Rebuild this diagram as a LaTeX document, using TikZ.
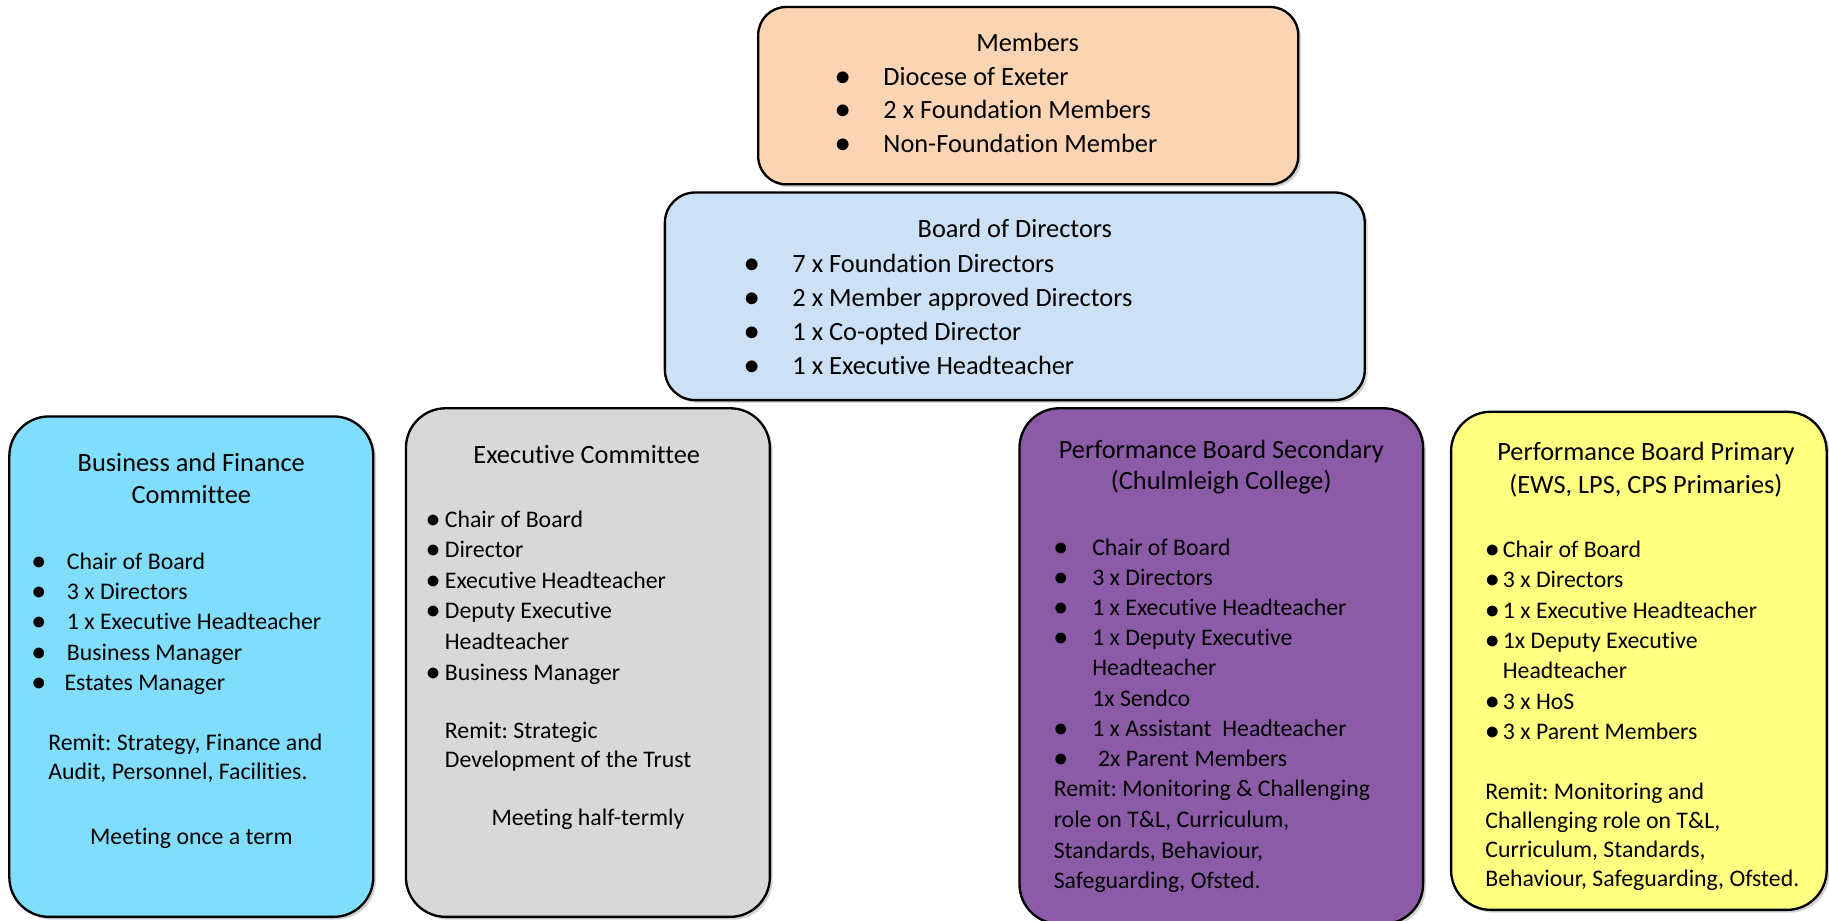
\documentclass[tikz,border=0pt]{standalone}
\usepackage{fontspec}
\setmainfont{Carlito}[Ligatures=NoCommon]
\frenchspacing
\usetikzlibrary{positioning}
\usetikzlibrary{matrix}
\usetikzlibrary{shadows}

\definecolor{memfill}{RGB}{251,212,180}
\definecolor{boardfill}{RGB}{204,225,245}
\definecolor{bizfill}{RGB}{128,221,251}
\definecolor{execfill}{RGB}{216,216,216}
\definecolor{secfill}{RGB}{139,91,168}
\definecolor{prifill}{RGB}{255,255,128}

\newcommand{\bul}{\scalebox{1.2}{$\bullet$}}

\tikzset{
  box/.style={draw=black, line width=1pt, rounded corners=17pt, inner sep=0pt,
    drop shadow={shadow xshift=1.2pt, shadow yshift=-1.2pt, opacity=0.35}},
  head/.style={anchor=base, inner sep=0pt, font=\fontsize{11.3}{14}\selectfont},
  headlines/.style={matrix of nodes, nodes={anchor=base, inner sep=0pt, font=\fontsize{11.3}{14}\selectfont}},
  toplist/.style={matrix of nodes, nodes={anchor=base west, inner sep=0pt, font=\fontsize{11.3}{14}\selectfont}},
  sublist/.style={matrix of nodes, nodes={anchor=base west, inner sep=0pt, font=\fontsize{10.2}{13}\selectfont}},
  note/.style={anchor=base, inner sep=0pt, font=\fontsize{10.2}{13}\selectfont},
}

\begin{document}
\begin{tikzpicture}[x=0.5pt, y=-0.5pt]
\fill[white] (0,0) rectangle (1568,789);
\useasboundingbox (0,0) rectangle (1568,789);

% boxes
\node (members) [box, rounded corners=12pt, fill=memfill, minimum width=231.5pt, minimum height=76pt] at (881.5,82) {};
\node (board) [box, rounded corners=13pt, fill=boardfill, minimum width=300pt, minimum height=89pt] at (870,254) {};
\node (biz) [box, fill=bizfill, minimum width=156pt, minimum height=214.5pt] at (164,571.5) {};
\node (exec) [box, fill=execfill, minimum width=156pt, minimum height=218pt] at (504,568) {};
\node (sec) [box, fill=secfill, minimum width=173pt, minimum height=221pt] at (1047,571) {};
\node (pri) [box, fill=prifill, minimum width=161pt, minimum height=213.5pt] at (1405,566.5) {};

% Members
\node (memtitle) [head] at (881,44) {Members};
\matrix (memlist) [toplist, row sep={14.5pt,between origins}, column sep={20.5pt,between origins},
  matrix anchor=memlist-1-1.base west] at (716,73) {
\bul & Diocese of Exeter \\
\bul & 2 x Foundation Members \\
\bul & Non-Foundation Member \\
};

% Board of Directors
\node (boardtitle) [head] at (870,204) {Board of Directors};
\matrix (boardlist) [toplist, row sep={14.5pt,between origins}, column sep={20.5pt,between origins},
  matrix anchor=boardlist-1-1.base west] at (638,234) {
\bul & 7 x Foundation Directors \\
\bul & 2 x Member approved Directors \\
\bul & 1 x Co-opted Director \\
\bul & 1 x Executive Headteacher \\
};

% Business and Finance
\matrix (biztitle) [headlines, row sep={14pt,between origins},
  matrix anchor=biztitle-1-1.base] at (164,404) {
Business and Finance \\
Committee \\
};
\matrix (bizlist) [sublist, row sep={13pt,between origins}, column sep={15pt,between origins},
  matrix anchor=bizlist-1-1.base west] at (27,488) {
\bul & Chair of Board \\
\bul & 3 x Directors \\
\bul & 1 x Executive Headteacher \\
\bul & Business Manager \\
\bul & \hspace{-1pt}Estates Manager \\
};
\matrix (bizremit) [sublist, row sep={12.5pt,between origins},
  matrix anchor=bizremit-1-1.base west] at (41,643) {
Remit: Strategy, Finance and \\
Audit, Personnel, Facilities. \\
};
\node (bizmeet) [note] at (164,724) {Meeting once a term};

% Executive Committee
\node (exectitle) [head] at (503,397) {Executive Committee};
\matrix (execlist) [sublist, row sep={13.1pt,between origins}, column sep={8pt,between origins},
  matrix anchor=execlist-1-1.base west] at (365,452) {
\bul & Chair of Board \\
\bul & Director \\
\bul & Executive Headteacher \\
\bul & Deputy Executive \\
     & Headteacher \\
\bul & Business Manager \\
};
\matrix (execremit) [sublist, row sep={12.5pt,between origins},
  matrix anchor=execremit-1-1.base west] at (381,633) {
Remit: Strategic \\
Development of the Trust \\
};
\node (execmeet) [note] at (504,708) {Meeting half-termly};

% Performance Board Secondary
\matrix (sectitle) [headlines, row sep={13.5pt,between origins},
  matrix anchor=sectitle-1-1.base] at (1047,393) {
Performance Board Secondary \\
(Chulmleigh College) \\
};
\matrix (seclist) [sublist, row sep={12.93pt,between origins}, column sep={16.5pt,between origins},
  matrix anchor=seclist-1-1.base west] at (903,476) {
\bul & Chair of Board \\
\bul & 3 x Directors \\
\bul & 1 x Executive Headteacher \\
\bul & 1 x Deputy Executive \\
     & Headteacher \\
     & 1x Sendco \\
\bul & 1 x Assistant\ \ Headteacher \\
\bul & \hspace{2.5pt}2x Parent Members \\
};
\matrix (secremit) [sublist, row sep={13.15pt,between origins},
  matrix anchor=secremit-1-1.base west] at (903,683) {
Remit: Monitoring \& Challenging \\
role on T\&L, Curriculum, \\
Standards, Behaviour, \\
Safeguarding, Ofsted. \\
};

% Performance Board Primary
\matrix (prititle) [headlines, row sep={14pt,between origins},
  matrix anchor=prititle-1-1.base] at (1411,395) {
Performance Board Primary \\
(EWS, LPS, CPS Primaries) \\
};
\matrix (prilist) [sublist, row sep={13pt,between origins}, column sep={7.5pt,between origins},
  matrix anchor=prilist-1-1.base west] at (1273,478) {
\bul & Chair of Board \\
\bul & 3 x Directors \\
\bul & 1 x Executive Headteacher \\
\bul & 1x Deputy Executive \\
     & Headteacher \\
\bul & 3 x HoS \\
\bul & 3 x Parent Members \\
};
\matrix (priremit) [sublist, row sep={12.5pt,between origins},
  matrix anchor=priremit-1-1.base west] at (1273,685) {
Remit: Monitoring and \\
Challenging role on T\&L, \\
Curriculum, Standards, \\
Behaviour, Safeguarding, Ofsted. \\
};
\end{tikzpicture}
\end{document}
